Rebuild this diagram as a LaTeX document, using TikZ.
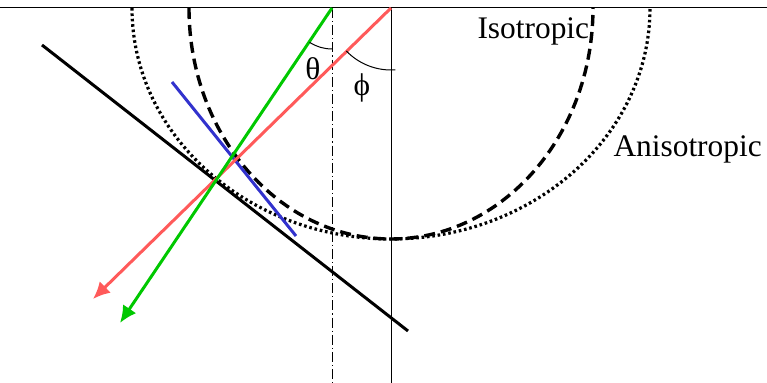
\documentclass[tikz,border=0pt]{standalone}
\usepackage{fontspec}
\setmainfont{Liberation Serif}
\usetikzlibrary{arrows.meta}
\definecolor{rayred}{RGB}{255,90,90}
\definecolor{raygreen}{RGB}{0,200,0}
\definecolor{wavefront}{RGB}{50,50,205}

\begin{document}
\begin{tikzpicture}[x=0.5pt,y=-0.5pt,line width=0.5pt,>={Latex[length=8.5pt,width=8pt]},
  ray/.style={line width=1.5pt},
  iso/.style={line width=1.7pt,dash pattern=on 5.5pt off 3pt},
  aniso/.style={line width=1.6pt,dash pattern=on 1.3pt off 1.4pt},
  lbl/.style={inner sep=0pt,font=\fontsize{15.7}{18}\selectfont}]
  \useasboundingbox (0,0) rectangle (767,383);
  % surface and normals
  \coordinate (L) at (0,8);
  \coordinate (R) at (767,8);
  \coordinate (O) at (391,8);
  \coordinate (Ob) at (391,383);
  \coordinate (G) at (332,8);
  \coordinate (Gb) at (332,383);
  \draw (L) -- (R);
  \draw (O) -- (Ob);
  \draw[dash pattern=on 5pt off 1.5pt on 0.6pt off 1.5pt] (G) -- (Gb);
  % wave surfaces
  \draw[aniso] (O) ++(-259,0) arc[start angle=180,end angle=0,x radius=259,y radius=231];
  \draw[iso] (O) ++(-202,0) arc[start angle=180,end angle=0,x radius=202,y radius=231];
  % tangents
  \coordinate (T1) at (42,45);
  \coordinate (T2) at (408,331);
  \coordinate (B1) at (172,82);
  \coordinate (B2) at (296,236);
  \draw[ray] (T1) -- (T2);
  \draw[ray,wavefront] (B1) -- (B2);
  % rays
  \coordinate (Rt) at (93,299);
  \coordinate (Gt) at (120,323);
  \draw[ray,rayred,->] (O) -- (Rt);
  \draw[ray,raygreen,->] (G) -- (Gt);
  % angles
  \draw ([shift={(90:41)}]G) arc[start angle=90,end angle=123,radius=41];
  \draw ([shift={(86:62)}]O) arc[start angle=86,end angle=136,radius=62];
  \node[lbl] (th) at (313,69) {θ};
  \node[lbl] (ph) at (362,88) {ϕ};
  \node[lbl,anchor=base west] (isolbl) at (477,39) {Isotropic};
  \node[lbl,anchor=base west] (anisolbl) at (613,157) {Anisotropic};
\end{tikzpicture}
\end{document}
